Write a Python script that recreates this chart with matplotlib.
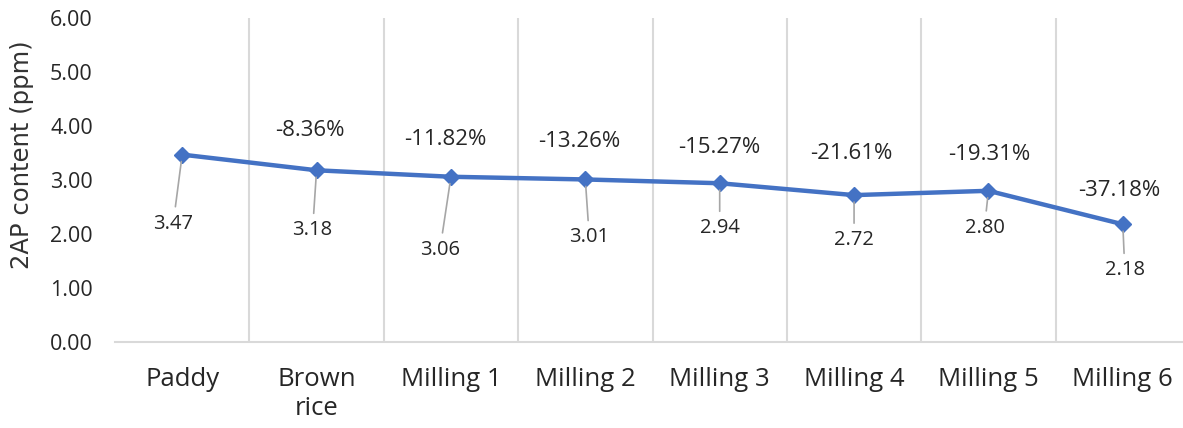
import matplotlib.pyplot as plt
import numpy as np

# data
stages = ['Paddy', 'Brown\nrice', 'Milling 1', 'Milling 2', 'Milling 3',
          'Milling 4', 'Milling 5', 'Milling 6']
content_2ap = [3.47, 3.18, 3.06, 3.01, 2.94, 2.72, 2.80, 2.18]
change_pct = [None, '-8.36%', '-11.82%', '-13.26%', '-15.27%', '-21.61%', '-19.31%', '-37.18%']

# label placement (pixel offsets from each point)
value_offsets = [(-9, -69), (-4, -60), (-11, -73), (4, -58), (0, -45), (0, -45), (-4, -37), (2, -46)]
pct_offsets = [None, (-7, 40), (-6, 37), (-6, 38), (0, 36), (-3, 42), (1, 36), (-4, 34)]


def draw_chart():
    W, H = 1183, 428
    fig = plt.figure(figsize=(W / 100, H / 100), dpi=100)
    left, right, top, bottom = 115, 1190, 18, 342
    ax = fig.add_axes([left / W, 1 - bottom / H, (right - left) / W, (bottom - top) / H])

    x = np.arange(len(stages))
    blue = '#4472C4'
    ax.plot(x, content_2ap, color=blue, lw=3.2, marker='D', ms=8, zorder=3)

    for i, v in enumerate(content_2ap):
        ax.annotate(f'{v:.2f}', xy=(i, v), xytext=value_offsets[i], textcoords='offset pixels',
                    ha='center', va='center', fontsize=14.5, color='#262626',
                    family='Open Sans',
                    arrowprops=dict(arrowstyle='-', color='#a6a6a6', lw=1.2,
                                    shrinkA=3, shrinkB=5))
        if change_pct[i]:
            ax.annotate(change_pct[i], xy=(i, v), xytext=pct_offsets[i], textcoords='offset pixels',
                        ha='center', va='center', fontsize=16, color='#262626', family='Open Sans')

    ax.set_xlim(-0.5, len(stages) - 0.5)
    ax.set_ylim(0, 6)
    ax.set_yticks(np.arange(0, 7, 1))
    ax.set_yticklabels([f'{t:.2f}' for t in range(7)], fontsize=15.5, family='Open Sans', color='#262626')
    ax.set_xticks(x)
    ax.set_xticklabels(stages, fontsize=18.5, family='Open Sans', color='#262626', linespacing=1.2)
    ax.tick_params(length=0, axis='x', pad=18)
    ax.tick_params(length=0, axis='y', pad=16)

    for b in np.arange(0.5, len(stages) - 0.5, 1):
        ax.axvline(b, color='#d9d9d9', lw=1.5, zorder=1)
    for s in ['top', 'right', 'left']:
        ax.spines[s].set_visible(False)
    ax.spines['bottom'].set_color('#d9d9d9')
    ax.spines['bottom'].set_linewidth(1.5)

    ax.set_ylabel('2AP content (ppm)', fontsize=17.5, color='#333333')
    ax.yaxis.set_label_coords(-0.075, 0.577)

    fig.savefig('out.png', dpi=100)


if __name__ == '__main__':
    draw_chart()
